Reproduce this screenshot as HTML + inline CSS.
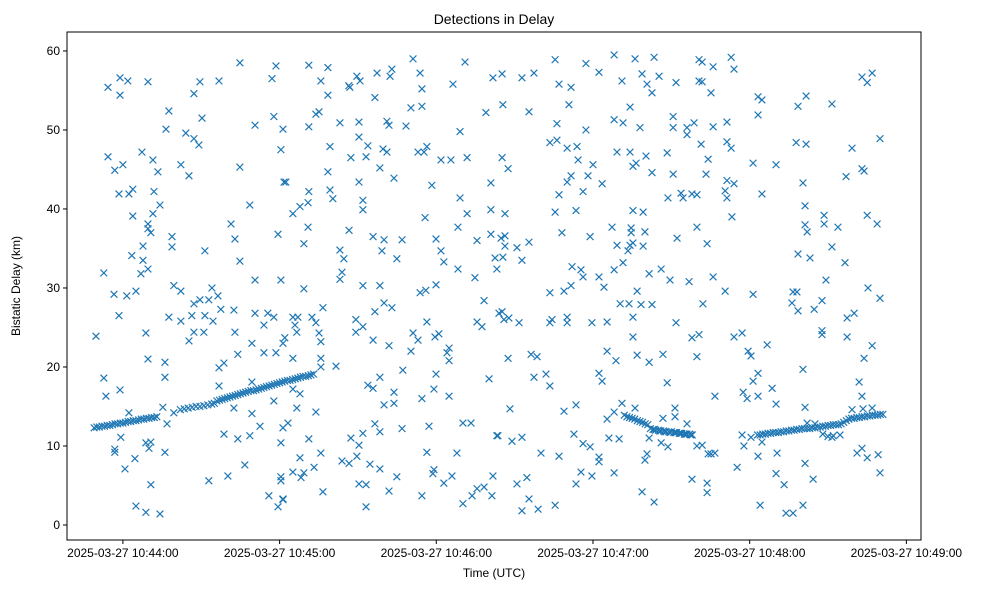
<!DOCTYPE html>
<html><head><meta charset="utf-8"><title>Detections in Delay</title>
<style>
html,body{margin:0;padding:0;background:#fff;}
svg{display:block;font-family:"Liberation Sans","DejaVu Sans",sans-serif;}
</style></head>
<body>
<svg id="chart" width="988" height="590" viewBox="0 0 988 590" xmlns="http://www.w3.org/2000/svg">
<rect x="0" y="0" width="988" height="590" fill="#fff"/>
<text x="494" y="24" text-anchor="middle" font-size="14" fill="#000">Detections in Delay</text>
<text x="0" y="0" transform="translate(20,286) rotate(-90)" text-anchor="middle" font-size="12" fill="#000">Bistatic Delay (km)</text>
<text x="494" y="577" text-anchor="middle" font-size="12" fill="#000">Time (UTC)</text>
<g id="marks"></g>
<g id="axes"></g>
</svg>
<script>
// time in seconds after 2025-03-27 10:44:00 UTC, delay in km
const yTicks = [0, 10, 20, 30, 40, 50, 60];
const xTickSeconds = [0, 60, 120, 180, 240, 300];
const xTickLabels = ["2025-03-27 10:44:00","2025-03-27 10:45:00","2025-03-27 10:46:00","2025-03-27 10:47:00","2025-03-27 10:48:00","2025-03-27 10:49:00"];
const xDomain = [-21.4, 305.6];
const yDomain = [-1.9, 62.4];

const trackPoints = [
[-11,12.3],[-10,12.4],[-9,12.4],[-8,12.5],[-7,12.5],[-6,12.6],[-5,12.6],[-4,12.7],[-3,12.8],[-2,12.8],[-1,12.9],[0,12.9],[1,13.0],[2,13.1],[3,13.1],[4,13.2],[5,13.2],[6,13.3],[7,13.4],[8,13.4],[9,13.5],[10,13.5],[11,13.6],[12,13.6],[13,13.7],
[22,14.6],[23.5,14.7],[25,14.8],[26.5,14.9],[28,15.0],[29.5,15.0],[31,15.1],[32.5,15.2],[34,15.3],[35,15.4],
[36,15.7],[37,15.8],[38,15.9],[39,16.0],[40,16.1],[41,16.2],[42,16.3],[43,16.4],[44,16.5],[45,16.6],[46,16.7],[47,16.8],[48,16.9],[49,17.0],[50,17.0],[51,17.1],[52,17.2],[53,17.3],[54,17.4],[55,17.5],[56,17.6],[57,17.7],[58,17.8],[59,17.9],
[60,18.0],[61,18.1],[62,18.2],[63,18.3],[64,18.3],[65,18.4],[66,18.5],[67,18.6],[68,18.7],[69,18.8],[70,18.8],[71,18.9],[72,19.0],[73,19.1],
[192,13.9],[193,13.7],[194,13.6],[195,13.5],[196,13.4],[197,13.2],[198,13.1],[199,13.0],[200,12.8],[201,12.7],
[202,12.2],[203,12.1],[204,12.0],[205,12.0],[206,11.9],[207,11.9],[208,11.8],[209,11.8],[210,11.8],[211,11.7],[212,11.7],[213,11.6],[214,11.6],[215,11.5],[216,11.5],[217,11.5],[218,11.4],
[203.5,12.1],[205.5,11.9],[207.5,11.8],[209.5,11.7],[211.5,11.7],[213.5,11.6],[215.5,11.5],[217.5,11.4],
[243,11.4],[244,11.4],[245,11.5],[246,11.5],[247,11.6],[248,11.6],[249,11.7],[250,11.7],[251,11.7],[252,11.8],[253,11.8],[254,11.9],[255,11.9],[256,12.0],[257,12.0],[258,12.1],[259,12.1],[260,12.2],[261,12.2],[262,12.2],[263,12.2],[264,12.3],[265,12.3],[266,12.4],[267,12.4],[268,12.5],[269,12.5],[270,12.6],[271,12.6],[272,12.7],[273,12.7],[274,12.7],
[275,12.8],[276,13.0],[277,13.2],[278,13.4],[279,13.5],[280,13.5],[281,13.6],[282,13.6],[283,13.7],[284,13.7],[285,13.8],[286,13.8],[287,13.9],[288,13.9],[289,13.9],[290,14.0],[291,14.0],
[262,12.9],[265,12.8],[268,11.5],[270,11.2],[272,11.3]
];

const noisePoints = [
[-5.7,55.4],[-1.1,56.6],[1.9,56.2],[-1.1,54.4],[9.6,56.1],[29.5,56.1],[27.2,54.6],[36.8,56.2],[44.8,58.5],[58.6,58.1],[57.1,56.5],
[17.6,52.4],[16.5,50.1],[30.3,51.5],[24.1,49.6],[27.2,48.9],[29.1,48.1],[50.6,50.6],[57.8,51.7],[61.3,50.1],[60.5,47.5],
[-5.7,46.6],[-3.1,44.9],[0,45.6],[7.3,47.2],[11.5,46.2],[13.4,44.7],[22.2,45.6],[25.3,44.2],[44.8,45.3],[61.7,43.4],
[-1.5,41.9],[2.3,41.9],[3.8,42.5],[11.9,42.2],[14.2,40.5],[11.5,39.4],[3.8,39.1],[9.6,38.1],[9.6,37.5],[10.7,37.0],[18.8,36.5],[18.8,35.2],[48.6,40.5],[41.4,38.1],[42.9,36.2],[31.4,34.7],[44.8,33.4],[59.4,36.8],
[3.4,34.1],[7.7,35.3],[7.7,33.5],[9.6,32.4],[6.9,31.8],[-7.3,31.9],[50.6,31.0],[60.5,31.0],
[-3.4,29.2],[1.5,29.0],[5.0,29.6],[19.5,30.3],[22.2,29.6],[34.1,30.0],[36.4,29.0],[27.2,28.0],[29.5,28.5],[32.9,28.5],[37.5,27.3],[42.5,27.2],
[-1.5,26.5],[17.6,26.3],[22.2,25.8],[26.4,26.5],[31.4,26.5],[34.5,25.8],[50.6,26.8],[55.5,26.8],[57.8,26.3],[54.0,25.3],[-10.3,23.9],[8.8,24.3],[25.3,23.3],[27.2,24.4],[31.0,24.4],[42.9,24.4],[49.4,23.0],[54.0,21.8],[58.6,21.8],[61.3,23.0],[44.0,21.6],
[9.6,21.0],[16.1,20.6],[16.1,18.7],[36.8,19.9],[38.7,20.5],[36.8,17.6],[-7.3,18.6],[-6.5,16.3],[-1.1,17.1],[49.4,18.1],[57.8,15.7],
[2.3,14.2],[15.3,14.9],[16.9,12.8],[19.5,14.2],[42.5,14.8],[49.4,14.1],[52.5,12.5],[-0.8,11.1],[-3.1,9.2],[-3.1,9.6],[8.8,10.4],[10.7,10.5],[10.0,9.7],[16.1,9.2],[38.7,11.5],[44.0,10.9],[48.6,11.3],[60.5,10.4],[61.3,12.3],[4.6,8.4],[0.8,7.1],[10.7,5.1],[32.9,5.6],[40.2,6.2],[46.7,7.6],[60.5,6.1],[60.5,5.6],[5.0,2.4],[8.8,1.6],[14.2,1.4],[55.9,3.7],[59.4,2.3],[61.3,3.3],
[71.2,58.2],[78.5,57.9],[75.8,56.2],[78.5,54.4],[86.9,55.4],[86.5,55.6],[89.6,56.8],[90.8,56.2],[97.3,57.2],[102.3,56.8],[103.0,57.7],[96.5,54.1],[111.1,59.0],[113.8,57.2],[114.5,55.2],[114.5,53.0],[110.3,52.8],[126.4,55.8],[131.0,58.6],[141.7,56.6],[139.0,52.2],[129.1,49.8],
[71.2,50.4],[73.9,52.0],[75.1,52.3],[83.1,50.9],[90.4,51.0],[101.1,51.1],[101.9,50.6],[108.4,50.5],[79.3,47.9],[90.4,49.1],[93.8,48.0],[87.3,46.5],[93.1,46.6],[99.6,47.6],[101.1,47.2],[98.4,45.2],[103.8,43.9],[113.0,47.2],[116.4,47.9],[115.3,47.2],[121.8,46.2],[125.6,46.2],[131.8,46.5],
[62.4,43.4],[78.5,44.7],[79.3,42.4],[80.4,41.3],[90.4,43.4],[91.9,41.1],[91.9,39.9],[118.3,43.0],[129.1,41.4],[131.8,39.4],[128.3,37.7],[115.7,38.9],[140.9,43.3],[140.9,39.9],[140.9,36.8],
[71.2,42.2],[70.9,40.8],[67.8,40.3],[65.1,39.4],[70.9,37.7],[69.3,35.6],[86.6,37.3],[95.8,36.5],[100.0,36.1],[106.9,36.1],[99.2,34.7],[104.9,33.7],[83.1,34.8],[84.6,33.7],[83.9,32.0],[83.1,31.1],[119.9,36.2],[121.8,34.7],[122.9,33.3],[128.3,32.4],[135.6,36.0],[134.8,31.3],[142.5,33.8],[143.2,32.4],
[69.3,29.9],[91.9,30.3],[98.4,30.3],[96.5,27.0],[100.0,28.1],[103.0,27.5],[113.8,29.4],[116.0,29.7],[119.9,30.4],[138.3,28.4],[144.0,26.8],
[65.1,26.3],[67.0,26.3],[65.9,25.3],[66.6,24.4],[72.4,26.3],[73.9,25.6],[76.6,27.5],[75.1,24.3],[75.8,23.2],[62.0,23.7],[89.2,26.0],[89.2,24.4],[91.9,25.1],[95.8,23.4],[101.9,22.7],[111.1,24.3],[113.0,23.4],[110.3,22.0],[116.4,25.7],[119.5,23.8],[121.0,24.2],[124.1,21.8],[124.9,22.4],[124.9,20.8],[135.6,25.7],[137.5,25.1],
[65.1,21.1],[75.8,21.1],[75.8,20.0],[81.6,20.1],[93.8,17.7],[95.8,17.3],[98.4,18.7],[107.2,19.6],[119.9,19.1],[119.1,17.2],[103.8,16.8],[100.0,15.2],[103.8,15.4],[114.5,16.0],[124.9,16.3],[140.2,18.5],
[65.1,17.2],[67.8,16.6],[66.6,14.8],[73.9,14.3],[63.2,12.9],[71.2,10.9],[75.8,9.1],[67.8,8.5],[65.1,6.7],[68.2,6.0],[69.3,6.6],[73.2,7.3],[61.3,3.2],[76.6,4.2],[83.9,8.1],[86.6,7.8],[89.6,8.7],[90.4,10.1],[91.9,11.6],[87.3,11.0],[94.6,7.7],[98.4,7.1],[96.5,12.8],[98.4,11.8],[90.4,5.2],[93.1,5.1],[93.1,2.3],[101.9,4.3],[104.9,6.1],[106.9,12.2],[114.5,3.7],[116.4,9.2],[117.2,12.5],[118.7,6.5],[119.1,7.0],[122.9,5.3],[126.0,6.2],[127.9,9.1],[130.2,12.9],[133.3,12.9],[130.2,2.7],[133.7,3.7],[135.6,4.6],[138.3,4.8],[141.3,3.7],[141.7,6.2],[143.2,11.3],
[145.2,57.1],[152.8,56.6],[157.4,57.2],[165.5,58.9],[167.0,55.8],[171.6,55.4],[177.3,58.4],[182.3,57.3],[188.1,59.5],[191.1,56.2],[196.1,59.0],[198.8,57.1],[200.7,55.8],[202.6,54.7],[203.4,59.2],[205.3,56.8],[211.8,56.0],[220.6,58.9],[220.6,56.2],
[145.5,53.2],[155.5,52.3],[170.8,53.2],[166.2,50.8],[177.3,50.0],[188.1,51.3],[191.5,50.9],[194.2,52.9],[198.0,50.3],[210.7,51.7],[210.7,50.3],[216.0,50.3],[216.0,49.4],[218.7,50.9],[221.4,48.2],
[163.5,48.4],[166.2,48.7],[170.1,47.7],[173.9,47.9],[174.3,46.2],[180.0,45.6],[178.1,44.2],[183.5,43.2],[171.6,44.2],[170.1,43.4],[167.0,41.8],[176.2,42.2],[165.5,39.6],[173.5,39.8],[189.2,47.2],[194.2,47.2],[200.3,46.7],[196.5,45.8],[195.3,45.4],[202.6,44.6],[208.4,47.1],[210.7,44.4],[208.7,41.4],[213.7,42.0],[214.5,41.4],[217.9,41.9],[219.8,41.8],[223.3,44.4],[195.3,39.8],[199.2,39.6],
[145.2,46.5],[147.5,45.1],[146.3,39.4],[144.8,36.3],[146.3,36.6],[146.3,35.3],[150.9,35.1],[155.5,35.8],[145.5,33.9],[152.8,33.5],[168.1,37.0],[178.9,36.5],[187.3,37.7],[194.6,37.6],[194.6,37.0],[199.9,37.1],[189.2,35.4],[194.2,35.4],[195.3,35.7],[199.2,35.3],[193.4,34.7],[212.2,36.3],[219.8,37.7],[223.7,35.6],
[163.5,29.4],[168.9,29.6],[171.6,30.3],[172.0,32.7],[175.4,32.3],[176.2,31.4],[182.3,31.4],[184.2,30.1],[188.1,32.3],[191.5,33.2],[196.9,29.6],[201.5,31.8],[206.1,32.4],[209.5,31.0],[216.8,30.8],[222.1,28.0],[190.4,28.0],[193.8,28.0],[198.4,27.9],[202.6,27.9],[195.3,26.3],[195.3,23.8],[211.8,25.6],[217.9,23.7],[220.6,24.1],
[145.2,27.0],[145.9,26.0],[147.8,26.2],[151.7,25.6],[163.5,25.6],[164.3,26.0],[170.1,26.3],[170.1,25.6],[179.6,25.6],[185.4,25.7],
[147.5,21.1],[156.3,21.6],[158.6,21.3],[157.4,18.7],[162.0,19.1],[163.5,17.6],[185.4,22.0],[188.8,20.8],[196.9,21.5],[201.5,20.6],[206.8,21.6],[219.8,21.3],[182.3,19.2],[183.5,18.2],[208.4,18.0],
[148.2,14.7],[168.9,14.4],[173.5,15.2],[185.4,13.4],[188.1,14.3],[191.1,15.4],[196.1,14.8],[206.8,13.5],[211.4,14.8],[211.4,13.7],[216.0,12.8],
[143.6,11.3],[149.0,10.6],[152.8,11.1],[160.1,9.1],[167.0,8.7],[172.7,11.5],[176.2,10.3],[178.9,9.9],[182.3,8.6],[182.3,8.0],[186.1,11.0],[190.0,10.9],[201.5,11.0],[206.1,10.4],[208.7,9.9],[200.7,9.0],[199.9,8.2],[219.8,10.0],[224.1,9.0],
[150.9,5.2],[154.7,6.0],[155.5,3.3],[152.8,1.8],[159.0,2.0],[165.5,2.5],[173.5,5.2],[175.4,6.7],[179.6,6.2],[188.1,6.6],[198.8,4.2],[203.4,2.9],[217.9,5.8],[223.7,5.3],[223.7,4.1],
[221.8,58.6],[226.0,58.0],[232.9,59.2],[234.0,57.7],[221.8,56.1],[225.2,54.7],[243.2,54.2],[244.7,53.8],[243.2,51.9],[258.5,53.0],[261.6,54.3],[271.5,53.3],[283.0,56.7],[285.0,56.0],[286.9,57.2],[226.0,50.4],[231.3,51.0],[231.3,48.5],[232.9,47.7],[224.1,46.3],[241.3,45.8],[250.1,45.6],[257.8,48.4],[261.6,48.2],[279.2,47.7],[289.9,48.9],[276.9,44.1],[283.0,45.1],[283.8,44.8],
[231.3,43.6],[230.6,42.3],[231.3,41.4],[234.0,43.2],[244.7,41.9],[260.4,43.3],[233.2,39.0],[261.2,40.4],[261.2,38.0],[262.0,37.1],[268.5,39.2],[268.5,38.1],[273.8,37.7],[285.0,39.2],[288.8,38.1],[258.5,34.3],[263.1,33.8],[271.5,35.2],[276.5,33.2],
[226.0,31.4],[230.6,29.6],[241.3,29.2],[256.6,29.5],[258.1,29.5],[256.2,28.1],[258.5,27.1],[264.7,27.3],[267.7,28.4],[269.2,31.0],[285.3,30.0],[289.9,28.7],[277.3,26.2],[280.0,26.8],[234.0,23.8],[237.1,24.3],[267.7,24.6],[267.7,24.1],[277.3,23.8],[286.9,22.7],[246.7,22.8],[239.4,22.0],[240.5,21.4],[283.8,21.1],
[260.4,19.7],[243.2,19.2],[241.3,18.2],[248.6,17.3],[237.5,16.8],[239.0,16.0],[243.2,16.3],[226.7,16.3],[250.1,15.3],[281.9,18.1],[283.0,16.3],[261.2,14.9],
[279.2,14.6],[283.4,14.7],[286.9,14.8],[237.1,11.4],[240.5,11.1],[244.7,10.5],[237.8,10.0],[221.8,10.1],[271.5,11.1],[274.6,11.4],[225.2,9.0],[226.7,9.1],[243.2,8.7],[250.5,9.1],[281.1,9.1],[283.0,9.7],[285.0,8.5],[289.2,8.9],[289.9,6.6],[235.2,7.3],[250.1,6.5],[253.2,5.1],[261.2,7.8],[264.3,5.8],[244.0,2.5],[253.9,1.5],[256.6,1.5],[260.4,2.5]
];

const NS = "http://www.w3.org/2000/svg";
const plot = {left: 67, right: 921, top: 32, bottom: 540};
function xScale(t){ return plot.left + (t - xDomain[0]) / (xDomain[1] - xDomain[0]) * (plot.right - plot.left); }
function yScale(d){ return plot.bottom - (d - yDomain[0]) / (yDomain[1] - yDomain[0]) * (plot.bottom - plot.top); }
function mk(tag, attrs){ const e = document.createElementNS(NS, tag); for (const k in attrs) e.setAttribute(k, attrs[k]); return e; }

const marks = document.getElementById('marks');
const r = 3.4;
function drawPoint(p, name){
  const cx = xScale(p[0]), cy = yScale(p[1]);
  const path = mk('path', {d: `M${cx-r},${cy-r}L${cx+r},${cy+r}M${cx-r},${cy+r}L${cx+r},${cy-r}`, stroke: '#1f77b4', 'stroke-width': 1.2, fill: 'none'});
  
  
  marks.appendChild(path);
}
trackPoints.forEach(p => drawPoint(p, 'track-detection'));
noisePoints.forEach(p => drawPoint(p, 'noise-detection'));

const axes = document.getElementById('axes');
const frame = mk('rect', {x: plot.left, y: plot.top, width: plot.right - plot.left, height: plot.bottom - plot.top, fill: 'none', stroke: '#000', 'stroke-width': 1});


axes.appendChild(frame);

yTicks.forEach(v => {
  const y = yScale(v);
  const tk = mk('line', {x1: plot.left - 4, x2: plot.left, y1: y, y2: y, stroke: '#000', 'stroke-width': 1});
  
  
  axes.appendChild(tk);
  const lb = mk('text', {x: plot.left - 7, y: y + 4, 'text-anchor': 'end', 'font-size': 12, fill: '#000'});
  lb.textContent = String(v);
  
  
  axes.appendChild(lb);
});

xTickSeconds.forEach((s, i) => {
  const x = xScale(s);
  const tk = mk('line', {x1: x, x2: x, y1: plot.bottom, y2: plot.bottom + 4, stroke: '#000', 'stroke-width': 1});
  
  
  axes.appendChild(tk);
  const lb = mk('text', {x: x, y: plot.bottom + 17, 'text-anchor': 'middle', 'font-size': 12, fill: '#000'});
  lb.textContent = xTickLabels[i];
  
  
  axes.appendChild(lb);
});
</script>
</body></html>
